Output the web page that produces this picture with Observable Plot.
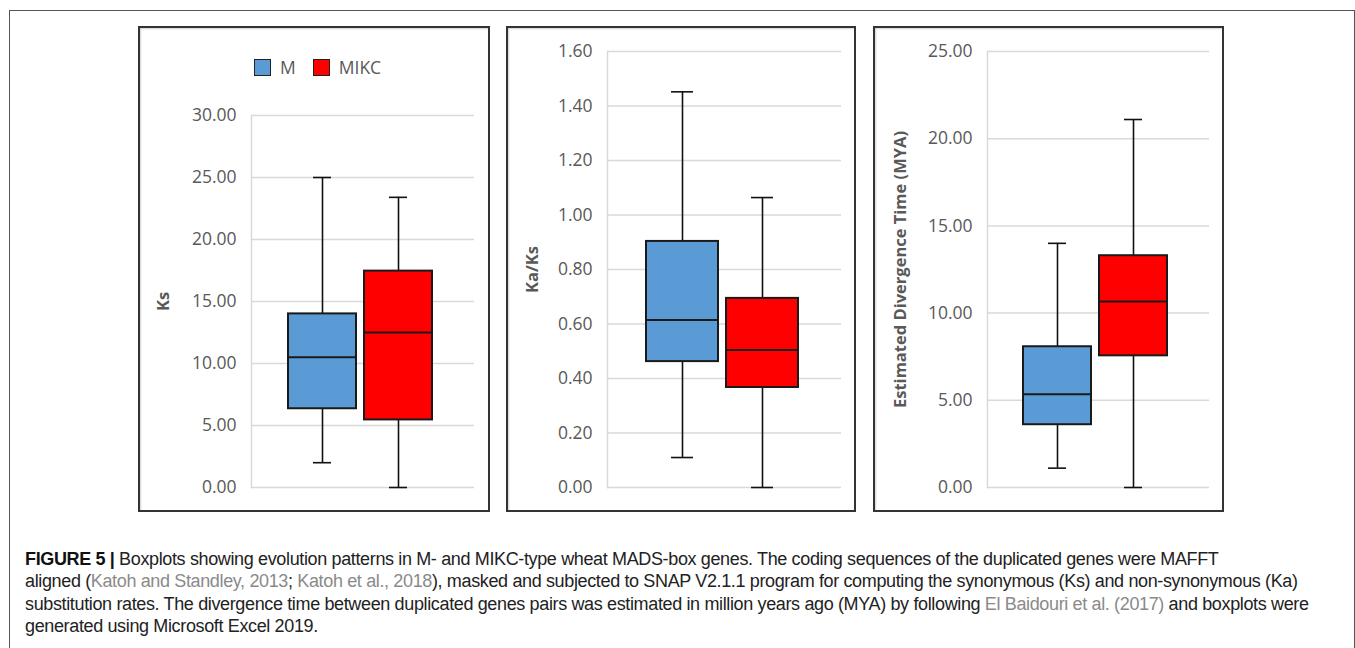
<!DOCTYPE html>
<html>
<head>
<meta charset="utf-8">
<script src="https://cdn.jsdelivr.net/npm/d3@7"></script>
<script src="https://cdn.jsdelivr.net/npm/@observablehq/plot@0.6"></script>
<style>
  html, body { margin: 0; padding: 0; background: #fff; }
  body { width: 1355px; height: 648px; overflow: hidden; position: relative; font-family: "Open Sans", sans-serif; }
  #outer { position: absolute; left: 9px; top: 10px; width: 1346px; height: 720px; border: 1.5px solid #555; box-sizing: border-box; }
  .panel { position: absolute; top: 26px; border: 2px solid #333; background: #fff; box-shadow: inset 1px 1px 2px rgba(0,0,0,0.18); }
  .panel svg { display: block; }
  .legend { position: absolute; display: flex; align-items: center; font-family: "Open Sans", sans-serif; font-size: 17.5px; color: #595959; }
  .legend .sw { width: 15px; height: 15px; border: 1.5px solid #222; display: inline-block; }
  .legend span.t { margin-left: 9px; margin-right: 17px; line-height: 1; }
  #caption { position: absolute; left: 25px; top: 548px; font-family: "Liberation Sans", Arial, sans-serif; font-size: 18px; line-height: 22.3px; letter-spacing: -0.36px; color: #222; white-space: nowrap; }
  #caption b { font-weight: bold; color: #111; }
  #caption .cite { color: #8a8a8a; }
</style>
</head>
<body>
<div id="outer"></div>
<div class="panel" id="p1" style="left:138px;"></div>
<div class="panel" id="p2" style="left:506px;"></div>
<div class="panel" id="p3" style="left:873px;"></div>
<div id="caption"></div>
<script>
// ---- data ----
const groups = ["M", "MIKC"];
const groupColors = ["#5B9BD5", "#FF0000"];

// Ks
const ksMin = [2.0, 0.0];
const ksQ1 = [6.35, 5.45];
const ksMedian = [10.5, 12.5];
const ksQ3 = [14.0, 17.45];
const ksMax = [25.0, 23.4];
const ksTicks = [0, 5, 10, 15, 20, 25, 30];

// Ka/Ks
const kaksMin = [0.11, 0.0];
const kaksQ1 = [0.462, 0.367];
const kaksMedian = [0.615, 0.505];
const kaksQ3 = [0.903, 0.694];
const kaksMax = [1.452, 1.064];
const kaksTicks = [0, 0.2, 0.4, 0.6, 0.8, 1.0, 1.2, 1.4, 1.6];

// Estimated divergence time (MYA)
const myaMin = [1.11, 0.0];
const myaQ1 = [3.6, 7.55];
const myaMedian = [5.35, 10.67];
const myaQ3 = [8.07, 13.29];
const myaMax = [14.0, 21.1];
const myaTicks = [0, 5, 10, 15, 20, 25];

const captionLines = [
  [["b", "FIGURE 5 |"], ["t", " Boxplots showing evolution patterns in M- and MIKC-type wheat MADS-box genes. The coding sequences of the duplicated genes were MAFFT"]],
  [["t", "aligned ("], ["c", "Katoh and Standley, 2013"], ["t", "; "], ["c", "Katoh et al., 2018"], ["t", "), masked and subjected to SNAP V2.1.1 program for computing the synonymous (Ks) and non-synonymous (Ka)"]],
  [["t", "substitution rates. The divergence time between duplicated genes pairs was estimated in million years ago (MYA) by following "], ["c", "El Baidouri et al. (2017)"], ["t", " and boxplots were"]],
  [["t", "generated using Microsoft Excel 2019."]]
];

// ---- drawing ----
function makePanel(id, cfg) {
  const data = groups.map((g, i) => ({
    group: g, min: cfg.min[i], q1: cfg.q1[i], median: cfg.median[i], q3: cfg.q3[i], max: cfg.max[i]
  }));
  const chart = Plot.plot({
    width: cfg.width,
    height: 482,
    marginLeft: cfg.marginLeft,
    marginRight: cfg.marginRight,
    marginTop: cfg.marginTop,
    marginBottom: 23,
    style: { fontFamily: "Open Sans, sans-serif", fontSize: "17.5px", color: "#595959", background: "transparent", overflow: "visible" },
    x: { domain: groups, paddingInner: 0.1, paddingOuter: 0.5, align: 0.47, axis: null },
    y: { domain: [cfg.ticks[0], cfg.ticks[cfg.ticks.length - 1]], axis: null },
    color: { domain: groups, range: groupColors },
    marks: [
      Plot.gridY(cfg.ticks, { stroke: "#d9d9d9", strokeOpacity: 1, strokeWidth: 1.5 }),
      Plot.frame({ anchor: "left", stroke: "#d9d9d9", strokeWidth: 1.5 }),
      Plot.axisY(cfg.ticks, { tickSize: 0, tickPadding: 15, tickFormat: d3.format(".2f"), label: null, fill: "#595959" }),
      Plot.text([cfg.label], { frameAnchor: "left", textAnchor: "middle", lineAnchor: "middle", rotate: -90, dx: cfg.labelDx, fontWeight: "bold", fontSize: 16.5, fill: "#595959" }),
      Plot.ruleX(data, { x: "group", y1: "min", y2: "max", stroke: "#111", strokeWidth: 1.6 }),
      Plot.tickY(data, { x: "group", y: "min", stroke: "#111", strokeWidth: 1.6, insetLeft: 25, insetRight: 25 }),
      Plot.tickY(data, { x: "group", y: "max", stroke: "#111", strokeWidth: 1.6, insetLeft: 25, insetRight: 25 }),
      Plot.barY(data, { x: "group", y1: "q1", y2: "q3", fill: "group", stroke: "#1a1a1a", strokeWidth: 2 }),
      Plot.tickY(data, { x: "group", y: "median", stroke: "#1a1a1a", strokeWidth: 2 })
    ]
  });
  const el = document.getElementById(id);
  el.style.width = cfg.width + "px";
  el.style.height = "482px";
  el.appendChild(chart);
  return el;
}

const p1 = makePanel("p1", { width: 348, marginLeft: 111, marginRight: 14, marginTop: 87, ticks: ksTicks,
  min: ksMin, q1: ksQ1, median: ksMedian, q3: ksQ3, max: ksMax, label: "Ks", labelDx: -88 });
makePanel("p2", { width: 346, marginLeft: 99, marginRight: 13, marginTop: 23, ticks: kaksTicks,
  min: kaksMin, q1: kaksQ1, median: kaksMedian, q3: kaksQ3, max: kaksMax, label: "Ka/Ks", labelDx: -75 });
makePanel("p3", { width: 347, marginLeft: 112, marginRight: 13, marginTop: 23, ticks: myaTicks,
  min: myaMin, q1: myaQ1, median: myaMedian, q3: myaQ3, max: myaMax, label: "Estimated Divergence Time (MYA)", labelDx: -87 });

// legend (panel 1)
const legend = document.createElement("div");
legend.className = "legend";
legend.style.left = "114px";
legend.style.top = "31px";
groups.forEach((g, i) => {
  const sw = document.createElement("span");
  sw.className = "sw";
  sw.style.background = groupColors[i];
  const t = document.createElement("span");
  t.className = "t";
  t.textContent = g;
  legend.appendChild(sw);
  legend.appendChild(t);
});
p1.appendChild(legend);

// caption
const cap = document.getElementById("caption");
captionLines.forEach(line => {
  const div = document.createElement("div");
  line.forEach(([kind, txt]) => {
    const s = document.createElement(kind === "b" ? "b" : "span");
    if (kind === "c") s.className = "cite";
    s.textContent = txt;
    div.appendChild(s);
  });
  cap.appendChild(div);
});
</script>
</body>
</html>
